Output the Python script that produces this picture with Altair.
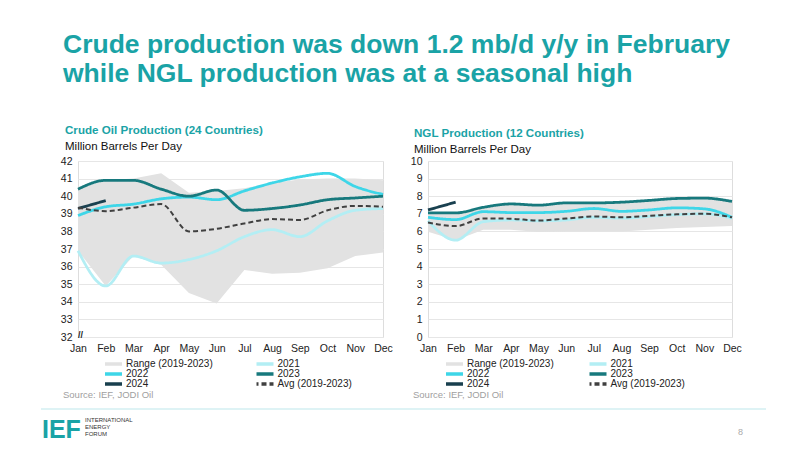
import altair as alt
import pandas as pd

months = ["Jan", "Feb", "Mar", "Apr", "May", "Jun", "Jul", "Aug", "Sep", "Oct", "Nov", "Dec"]

# Crude oil production (24 countries), million barrels per day
crude_2021 = [36.9, 34.9, 36.6, 36.2, 36.4, 36.9, 37.7, 38.1, 37.7, 38.6, 39.2, 39.3]
crude_2022 = [38.9, 39.4, 39.55, 39.85, 39.95, 39.8, 40.3, 40.75, 41.1, 41.3, 40.55, 40.1]
crude_2023 = [40.4, 40.9, 40.9, 40.4, 40.0, 40.35, 39.2, 39.3, 39.5, 39.8, 39.9, 40.0]
crude_2024 = [39.3, 39.75]
crude_avg = [39.35, 39.15, 39.35, 39.55, 38.0, 38.15, 38.45, 38.7, 38.65, 39.2, 39.45, 39.4]
crude_lo = [36.9, 34.9, 36.6, 36.1, 34.5, 33.9, 35.8, 35.6, 35.65, 35.9, 36.6, 36.8]
crude_hi = [40.4, 40.9, 41.0, 41.3, 40.2, 40.3, 40.45, 40.75, 40.95, 41.0, 41.0, 40.9]

# NGL production (12 countries), million barrels per day
ngl_2021 = [6.6, 5.5, 6.55, 6.65, 6.6, 6.65, 6.8, 6.75, 6.85, 6.95, 7.0, 6.75]
ngl_2022 = [6.8, 6.67, 7.12, 7.07, 7.07, 7.14, 7.3, 7.14, 7.22, 7.34, 7.28, 6.8]
ngl_2023 = [7.05, 7.05, 7.37, 7.56, 7.49, 7.62, 7.62, 7.66, 7.76, 7.87, 7.89, 7.7]
ngl_2024 = [7.22, 7.66]
ngl_avg = [6.51, 6.3, 6.74, 6.72, 6.62, 6.73, 6.85, 6.8, 6.88, 6.97, 7.0, 6.8]
ngl_lo = [5.98, 5.5, 6.1, 6.1, 5.97, 6.0, 6.0, 6.0, 6.1, 6.2, 6.25, 6.3]
ngl_hi = [7.05, 7.05, 7.37, 7.56, 7.49, 7.62, 7.62, 7.66, 7.76, 7.87, 7.89, 7.7]

crude_ticks = [32, 33, 34, 35, 36, 37, 38, 39, 40, 41, 42]
ngl_ticks = [0, 1, 2, 3, 4, 5, 6, 7, 8, 9, 10]

# legend order (filled column by column): Range, 2022, 2024 | 2021, 2023, Avg
series_domain = ["Range (2019-2023)", "2022", "2024", "2021", "2023", "Avg (2019-2023)"]
series_colors = ["#e2e2e2", "#3ed6e8", "#183f4e", "#b3eef4", "#17797d", "#404040"]
series_dash = [[1, 0], [1, 0], [1, 0], [1, 0], [1, 0], [5, 3]]

TEAL = "#1aa3a6"
FONT = "Liberation Sans"


def long_lines(d):
    rows = []
    for name, vals in d:
        for m, v in zip(months, vals):
            rows.append({"month": m, "value": v, "series": name})
    return pd.DataFrame(rows)


def text_layer(txt, x, y, size, color, weight="normal", baseline="middle", align="left"):
    return alt.Chart(pd.DataFrame({"t": [txt]})).mark_text(
        font=FONT, fontSize=size, color=color, fontWeight=weight,
        align=align, baseline=baseline
    ).encode(text="t:N", x=alt.value(x), y=alt.value(y))


def panel(y2021, y2022, y2023, y2024, yavg, lo, hi, ydom, yticks, w, h, lx, ly, colpad, extra):
    xenc = alt.X("month:O", sort=months, scale=alt.Scale(type="point", padding=0),
                 axis=alt.Axis(title=None, labelAngle=0, domain=False, ticks=False,
                               grid=False, labelPadding=6, labelFontSize=10.5,
                               labelColor="#222", labelFont=FONT))
    yscale = alt.Scale(domain=ydom, nice=False, zero=False)
    yaxis = alt.Axis(title=None, values=yticks, domain=False, ticks=False, grid=True,
                     gridColor="#e6e6e6", labelPadding=6, labelFontSize=10.5,
                     labelColor="#222", labelFont=FONT)
    leg = alt.Legend(title=None, orient="none", legendX=lx, legendY=ly, columns=2,
                     symbolType="M-2,0H2", symbolStrokeWidth=3.5, symbolSize=100,
                     labelFontSize=10, labelFont=FONT, labelColor="#222",
                     clipHeight=10, rowPadding=0, columnPadding=colpad, labelOffset=7)
    color = alt.Color("series:N", scale=alt.Scale(domain=series_domain, range=series_colors), legend=leg)
    dash = alt.StrokeDash("series:N", scale=alt.Scale(domain=series_domain, range=series_dash), legend=leg)

    rng = pd.DataFrame({"month": months, "lo": lo, "hi": hi, "series": "Range (2019-2023)"})
    area = alt.Chart(rng).mark_area(interpolate="linear").encode(
        x=xenc, y=alt.Y("lo:Q", scale=yscale, axis=yaxis), y2="hi:Q", color=color)

    main = long_lines([("2021", y2021), ("2022", y2022), ("2023", y2023), ("2024", y2024)])
    lines = alt.Chart(main).mark_line(interpolate="monotone", strokeWidth=2.8).encode(
        x=xenc, y=alt.Y("value:Q", scale=yscale, axis=yaxis), color=color, strokeDash=dash)
    avg = long_lines([("Avg (2019-2023)", yavg)])
    avgl = alt.Chart(avg).mark_line(interpolate="monotone", strokeWidth=2).encode(
        x=xenc, y=alt.Y("value:Q", scale=yscale, axis=yaxis), color=color, strokeDash=dash)

    return alt.layer(area, lines, avgl, *extra).properties(width=w, height=h)


W1, W2, H = 305, 304, 176

left_extra = [
    # invisible page frame fixing the canvas extent
    alt.Chart(pd.DataFrame({"a": [0]})).mark_rect(opacity=0).encode(
        x=alt.value(-69), x2=alt.value(715), y=alt.value(-152), y2=alt.value(278)),
    text_layer("Crude production was down 1.2 mb/d y/y in February", -15, -108, 26.5, TEAL, "bold", "alphabetic"),
    text_layer("while NGL production was at a seasonal high", -15, -79, 26.5, TEAL, "bold", "alphabetic"),
    text_layer("Crude Oil Production (24 Countries)", -13, -30, 11.6, TEAL, "bold"),
    text_layer("Million Barrels Per Day", -13, -14, 11.5, "#111"),
    text_layer("//", 0, 174, 9, "#222", "bold"),
    text_layer("Source: IEF, JODI Oil", -15, 234, 9.5, "#a0a0a0"),
    alt.Chart(pd.DataFrame({"a": [0]})).mark_rule(color="#d3eff2", strokeWidth=1.5).encode(
        x=alt.value(-37), x2=alt.value(688), y=alt.value(248)),
    text_layer("IEF", -36, 269, 25, TEAL, "bold"),
    text_layer("INTERNATIONAL", 7, 259, 6, "#333"),
    text_layer("ENERGY", 7, 266, 6, "#333"),
    text_layer("FORUM", 7, 273, 6, "#333"),
    text_layer("8", 660, 271, 9, "#aaaaaa"),
]

right_extra = [
    text_layer("NGL Production (12 Countries)", -14, -27, 11.6, TEAL, "bold"),
    text_layer("Million Barrels Per Day", -14, -11, 11.5, "#111"),
    text_layer("Source: IEF, JODI Oil", -15, 234, 9.5, "#a0a0a0"),
]

left = panel(crude_2021, crude_2022, crude_2023, crude_2024, crude_avg, crude_lo, crude_hi,
             [32, 42], crude_ticks, W1, H, 27, 198, 43.5, left_extra)
right = panel(ngl_2021, ngl_2022, ngl_2023, ngl_2024, ngl_avg, ngl_lo, ngl_hi,
              [0, 10], ngl_ticks, W2, H, 18, 198, 35.5, right_extra)

chart = alt.hconcat(left, right, spacing=45, bounds="flush").resolve_scale(
    color="independent", strokeDash="independent", y="independent", x="independent"
).resolve_legend(color="independent", strokeDash="independent").properties(
    padding=0
).configure_view(stroke=None).configure(background="white")

chart.save("out.html", embed_options={"renderer": "svg", "actions": False})
